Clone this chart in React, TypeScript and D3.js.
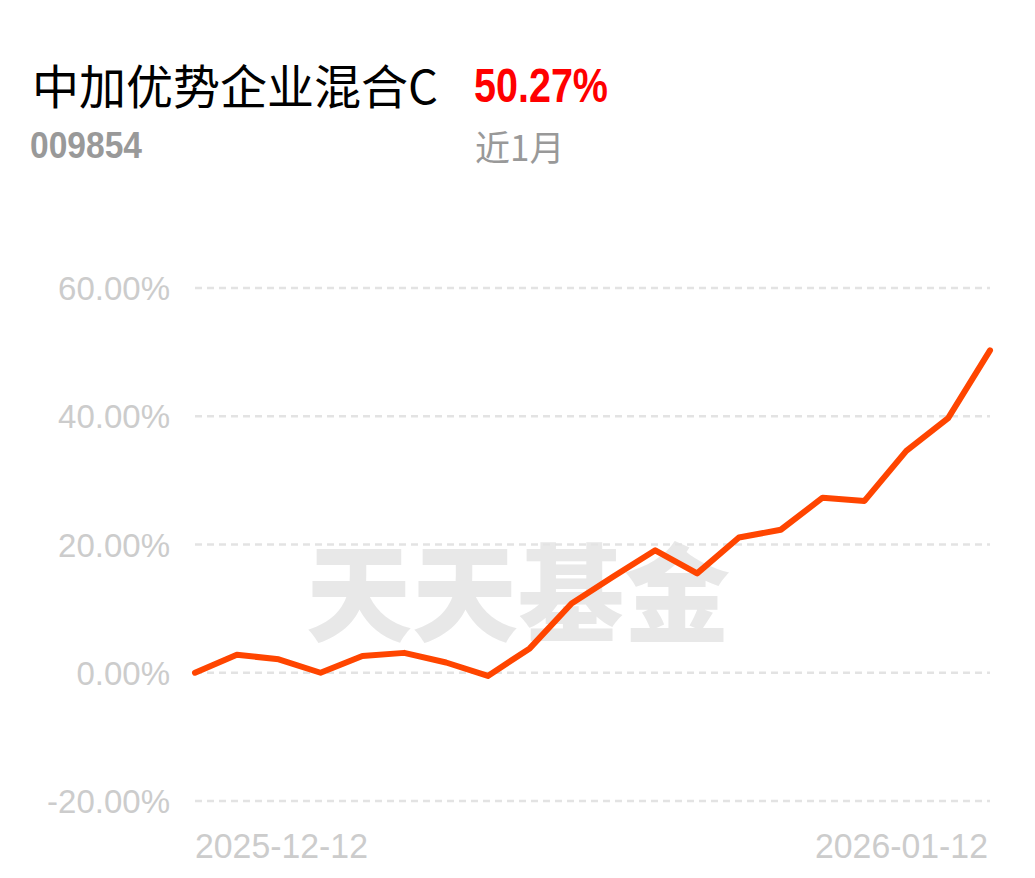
import React from "react";
import * as d3 from "d3";

const W = 1035;
const H = 878;

const fundName = "中加优势企业混合C";
const fundCode = "009854";
const periodReturn = "50.27%";
const periodLabel = "近1月";
const watermark = "天天基金";

const xLabels = ["2025-12-12", "2026-01-12"];
const yTicks = [-20, 0, 20, 40, 60];
const values = [
  0, 2.8, 2.1, 0, 2.6, 3.1, 1.6, -0.5, 3.8, 10.8, 15.0, 19.1, 15.5, 21.1, 22.3,
  27.3, 26.8, 34.6, 39.7, 50.27,
];

export default function App() {
  const x = d3.scaleLinear().domain([0, values.length - 1]).range([195, 990]);
  const y = d3.scaleLinear().domain([-20, 60]).range([801, 288]);
  const line = d3
    .line<number>()
    .x((_, i) => x(i))
    .y((d) => y(d));

  const sans = "'Liberation Sans', Arial, 'Noto Sans CJK SC', sans-serif";
  const cjk = "'Noto Sans CJK SC', sans-serif";

  return (
    <svg
      width={W}
      height={H}
      style={{ position: "absolute", left: 0, top: 0, background: "#fff" }}
    >
      <text x={32} y={104} fontFamily={cjk} fontSize={47} fill="#000">
        {fundName}
      </text>
      <text
        x={474}
        y={102}
        fontFamily={sans}
        fontWeight="bold"
        fontSize={49}
        fill="#ff0000"
        textLength={134}
        lengthAdjust="spacingAndGlyphs"
      >
        {periodReturn}
      </text>
      <text
        x={30}
        y={158}
        fontFamily={sans}
        fontWeight="bold"
        fontSize={37}
        fill="#999"
        textLength={112}
        lengthAdjust="spacingAndGlyphs"
      >
        {fundCode}
      </text>
      <text x={475} y={161} fontFamily={cjk} fontSize={35} fill="#999">
        {periodLabel}
      </text>

      <text
        x={518}
        y={587}
        textAnchor="middle"
        dominantBaseline="central"
        fontFamily={cjk}
        fontWeight={900}
        fontSize={106}
        fill="#e8e8e8"
      >
        {watermark}
      </text>

      {yTicks.map((t) => (
        <g key={t}>
          <line
            x1={195}
            x2={990}
            y1={y(t)}
            y2={y(t)}
            stroke="#e3e3e3"
            strokeWidth={2.5}
            strokeDasharray="7 5"
          />
          <text
            x={170}
            y={y(t) + 12}
            textAnchor="end"
            fontFamily={sans}
            fontSize={33}
            fill="#cccccc"
          >
            {t.toFixed(2) + "%"}
          </text>
        </g>
      ))}

      <text
        x={195}
        y={858}
        fontFamily={sans}
        fontSize={35}
        fill="#cccccc"
        textLength={173}
        lengthAdjust="spacingAndGlyphs"
      >
        {xLabels[0]}
      </text>
      <text
        x={815}
        y={858}
        fontFamily={sans}
        fontSize={35}
        fill="#cccccc"
        textLength={173}
        lengthAdjust="spacingAndGlyphs"
      >
        {xLabels[1]}
      </text>

      <path
        d={line(values) || ""}
        fill="none"
        stroke="#ff4500"
        strokeWidth={6}
        strokeLinejoin="round"
        strokeLinecap="round"
      />
    </svg>
  );
}
